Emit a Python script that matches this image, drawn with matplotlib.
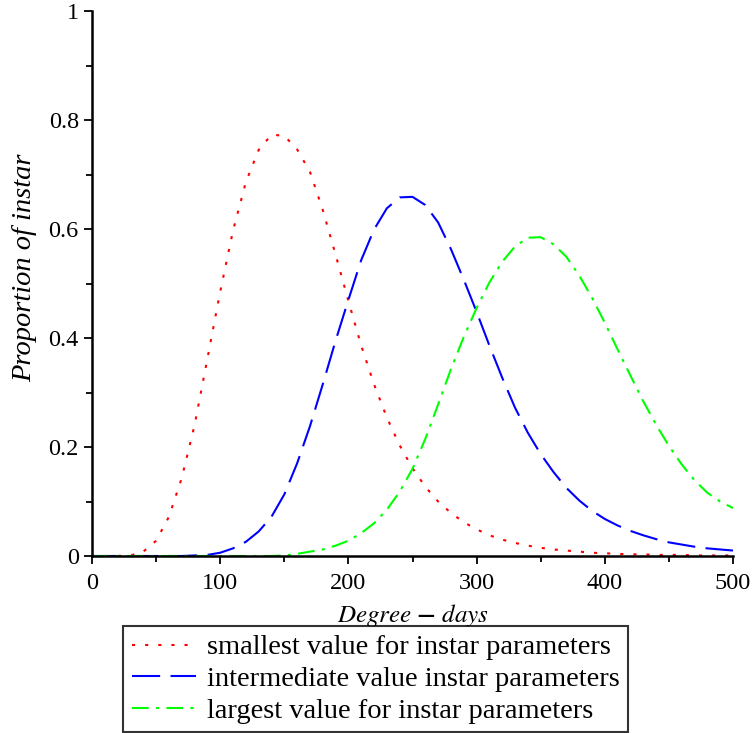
import numpy as np
import matplotlib
matplotlib.use("Agg")
import matplotlib.pyplot as plt

plt.rcParams['font.family'] = ['Liberation Serif', 'DejaVu Serif']
plt.rcParams['mathtext.fontset'] = 'stix'

# degree-days, sampled every 10
degree_days = list(range(0, 501, 10))

# proportion of instar
smallest = [0, 0, 0, 0.001, 0.008, 0.028, 0.072, 0.143, 0.240, 0.362,
            0.485, 0.597, 0.686, 0.745, 0.773, 0.771, 0.746, 0.705, 0.635, 0.553,
            0.468, 0.386, 0.315, 0.254, 0.203, 0.161, 0.127, 0.100, 0.079, 0.062,
            0.049, 0.038, 0.030, 0.024, 0.019, 0.015, 0.012, 0.010, 0.008, 0.006,
            0.005, 0.004, 0.003, 0.003, 0.002, 0.002, 0.002, 0.001, 0.001, 0.001,
            0.001]
intermediate = [0, 0, 0, 0, 0, 0, 0, 0, 0.001, 0.002,
                0.006, 0.014, 0.026, 0.045, 0.072, 0.113, 0.170, 0.238, 0.315, 0.395,
                0.470, 0.543, 0.599, 0.638, 0.658, 0.659, 0.644, 0.612, 0.563, 0.507,
                0.448, 0.386, 0.327, 0.272, 0.226, 0.187, 0.154, 0.125, 0.102, 0.083,
                0.068, 0.056, 0.046, 0.038, 0.031, 0.025, 0.021, 0.017, 0.014, 0.012,
                0.010]
largest = [0, 0, 0, 0, 0, 0, 0, 0, 0, 0,
           0, 0, 0, 0, 0, 0.001, 0.004, 0.008, 0.012, 0.019,
           0.028, 0.042, 0.060, 0.085, 0.118, 0.160, 0.215, 0.278, 0.343, 0.402,
           0.455, 0.502, 0.540, 0.568, 0.584, 0.585, 0.572, 0.549, 0.515, 0.474,
           0.428, 0.379, 0.331, 0.284, 0.241, 0.202, 0.168, 0.139, 0.116, 0.100,
           0.088]

labels = ["smallest value for instar parameters",
          "intermediate value instar parameters",
          "largest value for instar parameters"]

fig = plt.figure(figsize=(7.53, 7.33), dpi=100)
ax = fig.add_axes([92/753, 1 - 556/733, (733-92)/753, (556-11)/733])

ax.plot(degree_days, smallest, color='#ff0000', lw=1.5, dashes=(1.5, 4.8), label=labels[0])
ax.plot(degree_days, intermediate, color='#0000ff', lw=1.5, dashes=(13.5, 5), label=labels[1])
ax.plot(degree_days, largest, color='#00ff00', lw=1.5, dashes=(8, 3.5, 1.5, 3.5), label=labels[2])

ax.set_xlim(0, 500)
ax.set_ylim(0, 1)
ax.set_xticks([0, 100, 200, 300, 400, 500])
ax.set_xticks(range(50, 500, 100), minor=True)
ax.set_yticks([0, 0.2, 0.4, 0.6, 0.8, 1])
ax.set_yticklabels(['0', '0.2', '0.4', '0.6', '0.8', '1'])
ax.set_yticks([0.1, 0.3, 0.5, 0.7, 0.9], minor=True)
ax.tick_params(which='major', length=6, width=1.3, labelsize=17.5, direction='out')
ax.tick_params(which='minor', length=4, width=1.3, direction='out')
ax.tick_params(axis='x', pad=6)

for s in ['top', 'right']:
    ax.spines[s].set_visible(False)
for s in ['left', 'bottom']:
    ax.spines[s].set_linewidth(1.8)

ax.set_xlabel(r'$\it{Degree}\ \mathbf{-}\ \it{days}$', fontsize=18, labelpad=6)
ax.set_ylabel('Proportion of instar', fontsize=20.5, style='italic')
ax.yaxis.set_label_coords(-0.086, 0.528)

leg = fig.legend(loc='upper left', bbox_to_anchor=(123/753, 1 - 626/733),
                 borderaxespad=0, fontsize=20.5, frameon=True, fancybox=False,
                 edgecolor='black', handlelength=2.26, handletextpad=0.38,
                 labelspacing=0.2, borderpad=0.3)
leg.get_frame().set_linewidth(1.5)

plt.savefig('out.png', dpi=100)
